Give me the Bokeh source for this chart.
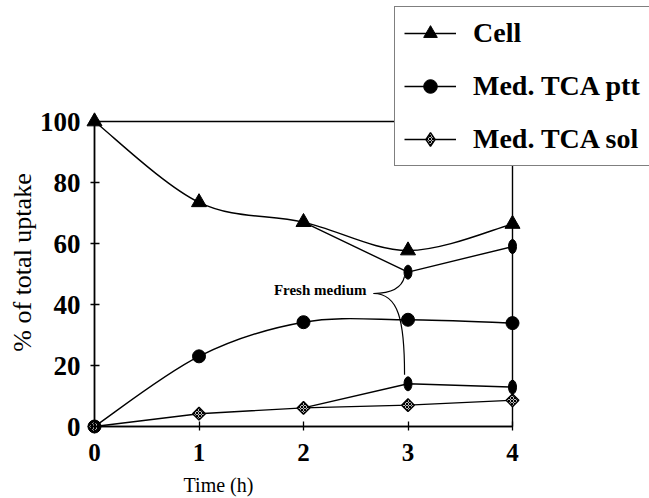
import numpy as np
from bokeh.plotting import figure
from bokeh.models import Range1d, Legend, LegendItem, Label, FixedTicker
from bokeh.embed import file_html
from bokeh.resources import INLINE

# ---------------- data ----------------
time_h = [0, 1, 2, 3, 4]
cell = [100, 73.5, 67.0, 57.7, 66.4]
med_tca_ptt = [0, 23.0, 34.2, 35.0, 33.9]
med_tca_sol = [0, 4.2, 6.1, 7.0, 8.6]

# fresh-medium branches (start at the 2 h point)
fresh_time = [2, 3, 4]
fresh_cell = [67.0, 50.6, 59.0]
fresh_sol = [6.1, 14.0, 12.9]

x_ticks = [0, 1, 2, 3, 4]
y_ticks = [0, 20, 40, 60, 80, 100]

# ---------------- geometry ----------------
W, H = 649, 498
X0PX, Y0PX = 94, 426          # pixel position of the (0, 0) corner
px_per_x = 104.5
px_per_y = 3.05


def X(px):
    return (px - X0PX) / px_per_x


def Y(py):
    return (Y0PX - py) / px_per_y


p = figure(width=W, height=H, output_backend="svg", toolbar_location=None,
           x_range=Range1d(X(0), X(W)), y_range=Range1d(Y(H), Y(0)),
           min_border_left=0, min_border_right=0, min_border_top=0,
           min_border_bottom=0, background_fill_color="white",
           border_fill_color="white")
p.outline_line_color = None
p.xgrid.visible = False
p.ygrid.visible = False

for ax, ticks in ((p.xaxis, x_ticks), (p.yaxis, y_ticks)):
    ax.ticker = FixedTicker(ticks=ticks)
    ax.bounds = (min(ticks), max(ticks))
    ax.fixed_location = 0
    ax.axis_line_width = 1.5
    ax.axis_line_color = "black"
    ax.major_tick_line_color = "black"
    ax.major_tick_line_width = 1.3
    ax.major_tick_in = 5
    ax.major_tick_out = 4
    ax.minor_tick_line_color = None
    ax.major_label_text_font = "Liberation Serif"
    ax.major_label_text_font_style = "bold"
    ax.major_label_text_color = "black"

p.xaxis.major_label_text_font_size = "25px"
p.xaxis.major_label_standoff = 13
p.yaxis.major_label_text_font_size = "27px"
p.yaxis.major_label_standoff = 10

# frame box (top and right edges)
p.quad(left=min(x_ticks), right=max(x_ticks), bottom=min(y_ticks), top=max(y_ticks),
       fill_alpha=0, line_color="black", line_width=1.4)


def catmull_bezier(xs, ys):
    x = np.asarray(xs, float)
    y = np.asarray(ys, float)
    xp = np.concatenate([[x[0]], x, [x[-1]]])
    yp = np.concatenate([[y[0]], y, [y[-1]]])
    return dict(
        x0=x[:-1], y0=y[:-1], x1=x[1:], y1=y[1:],
        cx0=x[:-1] + (xp[2:-1] - xp[:-3]) / 6, cy0=y[:-1] + (yp[2:-1] - yp[:-3]) / 6,
        cx1=x[1:] - (xp[3:] - xp[1:-2]) / 6, cy1=y[1:] - (yp[3:] - yp[1:-2]) / 6,
    )


LW = 1.4
p.bezier(line_color="black", line_width=LW, **catmull_bezier(time_h, cell))
p.bezier(line_color="black", line_width=LW, **catmull_bezier(time_h, med_tca_ptt))
p.line(time_h, med_tca_sol, line_color="black", line_width=LW)
p.line(fresh_time, fresh_cell, line_color="black", line_width=LW)
p.line(fresh_time, fresh_sol, line_color="black", line_width=LW)

# "Fresh medium" brace connectors (annotation)
fx = fresh_time[1]
brace_x0 = [fx - 0.330, fx - 0.330]
brace_y0 = [43.6, 43.6]
brace_cx0 = [fx - 0.120, fx - 0.091]
brace_cy0 = [43.6, 43.6]
brace_cx1 = [fx - 0.053, fx - 0.033]
brace_cy1 = [46.2, 34.8]
brace_x1 = [fx - 0.033, fx - 0.033]
brace_y1 = [fresh_cell[1] - 1.4, fresh_sol[1] + 3.0]
p.bezier(x0=brace_x0, y0=brace_y0, x1=brace_x1, y1=brace_y1,
         cx0=brace_cx0, cy0=brace_cy0, cx1=brace_cx1, cy1=brace_cy1,
         line_color="black", line_width=1.2)
p.add_layout(Label(x=fx - 0.397, y=44.6, text="Fresh medium", text_align="right",
                   text_baseline="middle", text_font="Liberation Serif",
                   text_font_style="bold", text_font_size="15px", text_color="black"))

# markers
p.ellipse(x=fresh_time[1:], y=fresh_cell[1:], width=8, height=14,
          width_units="screen", height_units="screen",
          fill_color="black", line_color="black")
p.ellipse(x=fresh_time[1:], y=fresh_sol[1:], width=8, height=14,
          width_units="screen", height_units="screen",
          fill_color="black", line_color="black")
s_cell = p.scatter(time_h, cell, marker="triangle", size=15,
                   fill_color="black", line_color="black")
s_ptt = p.scatter(time_h, med_tca_ptt, marker="circle", size=13,
                  fill_color="black", line_color="black")
hatch = dict(fill_color="#bbbbbb", line_color="black", line_width=1.4,
             hatch_pattern="diagonal_cross", hatch_scale=3,
             hatch_color="black", hatch_weight=1.0)
s_sol = p.scatter(time_h, med_tca_sol, marker="square", angle=np.pi / 4, size=9, **hatch)

# legend stand-ins
nan = float("nan")
l_cell = p.line([nan], [nan], line_color="black", line_width=LW)
l_ptt = p.line([nan], [nan], line_color="black", line_width=LW)
l_sol = p.line([nan], [nan], line_color="black", line_width=LW)
d_sol = p.scatter([nan], [nan], marker="diamond", size=14, **hatch)

legend = Legend(items=[
    LegendItem(label="Cell", renderers=[l_cell, s_cell]),
    LegendItem(label="Med. TCA ptt", renderers=[l_ptt, s_ptt]),
    LegendItem(label="Med. TCA sol", renderers=[l_sol, d_sol]),
], location=(394, H - 166), margin=0, padding=9, spacing=19,
    glyph_width=52, glyph_height=34, label_height=34, label_width=200,
    label_standoff=17, border_line_color="black", border_line_width=1.5,
    background_fill_color="white", background_fill_alpha=1.0,
    label_text_font="Liberation Serif", label_text_font_style="bold",
    label_text_font_size="28px", label_text_color="black")
p.add_layout(legend)

# axis titles
p.add_layout(Label(x=X(218), y=Y(484), text="Time (h)",
                   text_align="center", text_baseline="middle",
                   text_font="Liberation Serif", text_font_size="20px", text_color="black"))
p.add_layout(Label(x=X(22), y=Y(262),
                   text="% of total uptake", angle=np.pi / 2,
                   text_align="center", text_baseline="middle",
                   text_font="Liberation Serif", text_font_size="26px", text_color="black"))

open("out.html", "w").write(file_html(p, INLINE))
